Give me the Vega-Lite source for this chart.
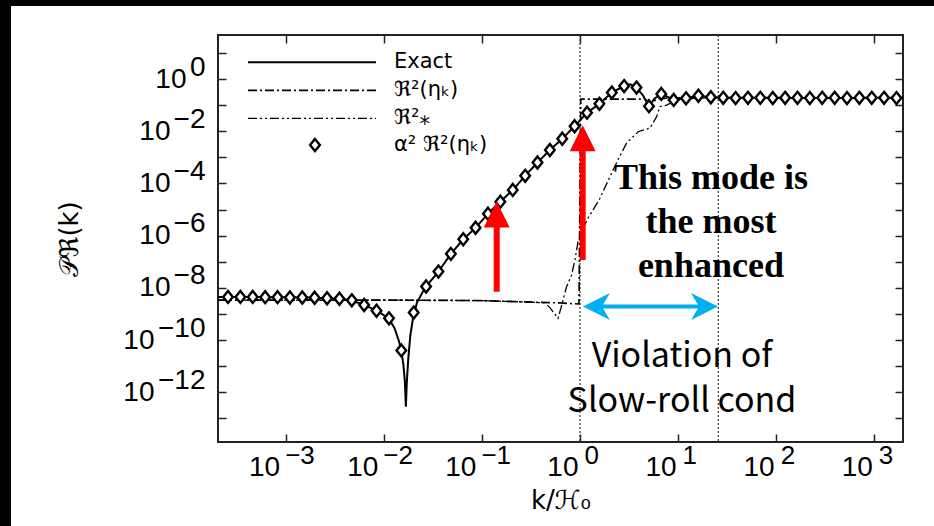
{
  "$schema": "https://vega.github.io/schema/vega-lite/v6.json",
  "width": 685,
  "height": 407,
  "autosize": {"type": "none"},
  "padding": {"left": 218, "top": 35, "right": 31, "bottom": 84},
  "background": "white",
  "config": {
    "view": {"fill": "white", "stroke": "#222", "strokeWidth": 2},
    "axis": {"grid": false, "labelColor": "black", "titleColor": "black", "labelFont": "Liberation Sans", "titleFont": "DejaVu Sans", "titleFontWeight": "normal"}
  },
  "datasets": {
    "curves": [
      {"series": "Exact", "k": 2.042e-4, "P": 4.467e-9},
      {"series": "Exact", "k": 1e-3, "P": 4.365e-9},
      {"series": "Exact", "k": 1.995e-3, "P": 4.169e-9},
      {"series": "Exact", "k": 3.548e-3, "P": 3.802e-9},
      {"series": "Exact", "k": 4.677e-3, "P": 3.311e-9},
      {"series": "Exact", "k": 6.310e-3, "P": 2.188e-9},
      {"series": "Exact", "k": 8.511e-3, "P": 1.318e-9},
      {"series": "Exact", "k": 1.122e-2, "P": 6.761e-10},
      {"series": "Exact", "k": 1.288e-2, "P": 2.818e-10},
      {"series": "Exact", "k": 1.429e-2, "P": 8.913e-11},
      {"series": "Exact", "k": 1.514e-2, "P": 3.548e-11},
      {"series": "Exact", "k": 1.585e-2, "P": 1.122e-11},
      {"series": "Exact", "k": 1.641e-2, "P": 2.512e-12},
      {"series": "Exact", "k": 1.679e-2, "P": 2.754e-13},
      {"series": "Exact", "k": 1.718e-2, "P": 2.512e-12},
      {"series": "Exact", "k": 1.778e-2, "P": 1.995e-11},
      {"series": "Exact", "k": 1.862e-2, "P": 1.413e-10},
      {"series": "Exact", "k": 1.995e-2, "P": 7.943e-10},
      {"series": "Exact", "k": 2.188e-2, "P": 2.818e-9},
      {"series": "Exact", "k": 2.630e-2, "P": 1e-8},
      {"series": "Exact", "k": 3.606e-2, "P": 4.169e-8},
      {"series": "Exact", "k": 4.831e-2, "P": 1.995e-7},
      {"series": "Exact", "k": 6.457e-2, "P": 7.244e-7},
      {"series": "Exact", "k": 8.630e-2, "P": 1.995e-6},
      {"series": "Exact", "k": 0.1153, "P": 6.918e-6},
      {"series": "Exact", "k": 0.1542, "P": 1.995e-5},
      {"series": "Exact", "k": 0.2065, "P": 5.623e-5},
      {"series": "Exact", "k": 0.2761, "P": 1.950e-4},
      {"series": "Exact", "k": 0.3690, "P": 6.310e-4},
      {"series": "Exact", "k": 0.4932, "P": 1.905e-3},
      {"series": "Exact", "k": 0.6592, "P": 5.129e-3},
      {"series": "Exact", "k": 0.8810, "P": 1.549e-2},
      {"series": "Exact", "k": 1.180, "P": 5.129e-2},
      {"series": "Exact", "k": 1.578, "P": 0.1122},
      {"series": "Exact", "k": 2.109, "P": 0.3020},
      {"series": "Exact", "k": 2.818, "P": 0.5370},
      {"series": "Exact", "k": 3.236, "P": 0.6310},
      {"series": "Exact", "k": 3.767, "P": 0.4677},
      {"series": "Exact", "k": 4.365, "P": 0.2399},
      {"series": "Exact", "k": 5.047, "P": 0.0912},
      {"series": "Exact", "k": 5.754, "P": 0.1778},
      {"series": "Exact", "k": 6.745, "P": 0.2692},
      {"series": "Exact", "k": 7.762, "P": 0.2089},
      {"series": "Exact", "k": 9.016, "P": 0.1585},
      {"series": "Exact", "k": 12.05, "P": 0.1820},
      {"series": "Exact", "k": 16.11, "P": 0.2291},
      {"series": "Exact", "k": 21.58, "P": 0.1995},
      {"series": "Exact", "k": 28.84, "P": 0.1905},
      {"series": "Exact", "k": 100, "P": 0.1905},
      {"series": "Exact", "k": 316.2, "P": 0.1862},
      {"series": "Exact", "k": 1000, "P": 0.1905},
      {"series": "Exact", "k": 1995, "P": 0.1905},
      {"series": "ℜ²(ηₖ)", "k": 2.042e-4, "P": 3.388e-9},
      {"series": "ℜ²(ηₖ)", "k": 0.01, "P": 3.388e-9},
      {"series": "ℜ²(ηₖ)", "k": 0.1, "P": 3.236e-9},
      {"series": "ℜ²(ηₖ)", "k": 0.3162, "P": 2.818e-9},
      {"series": "ℜ²(ηₖ)", "k": 0.6310, "P": 2.630e-9},
      {"series": "ℜ²(ηₖ)", "k": 0.9772, "P": 2.399e-9},
      {"series": "ℜ²(ηₖ)", "k": 1.019, "P": 0.1698},
      {"series": "ℜ²(ηₖ)", "k": 4.571, "P": 0.1698},
      {"series": "ℜ²(ηₖ)", "k": 5.248, "P": 0.1202},
      {"series": "ℜ²(ηₖ)", "k": 6.310, "P": 0.1778},
      {"series": "ℜ²(ηₖ)", "k": 10, "P": 0.1905},
      {"series": "ℜ²(ηₖ)", "k": 1995, "P": 0.1905},
      {"series": "ℜ²⁎", "k": 2.042e-4, "P": 3.388e-9},
      {"series": "ℜ²⁎", "k": 0.01, "P": 3.388e-9},
      {"series": "ℜ²⁎", "k": 0.1, "P": 3.236e-9},
      {"series": "ℜ²⁎", "k": 0.3162, "P": 2.818e-9},
      {"series": "ℜ²⁎", "k": 0.4365, "P": 2.630e-9},
      {"series": "ℜ²⁎", "k": 0.4943, "P": 1.738e-9},
      {"series": "ℜ²⁎", "k": 0.5970, "P": 6.761e-10},
      {"series": "ℜ²⁎", "k": 0.6457, "P": 1.905e-9},
      {"series": "ℜ²⁎", "k": 0.7295, "P": 1.096e-8},
      {"series": "ℜ²⁎", "k": 0.8204, "P": 3.090e-8},
      {"series": "ℜ²⁎", "k": 0.8892, "P": 1.175e-7},
      {"series": "ℜ²⁎", "k": 0.9616, "P": 6.761e-7},
      {"series": "ℜ²⁎", "k": 1.040, "P": 1.259e-6},
      {"series": "ℜ²⁎", "k": 1.175, "P": 3.981e-6},
      {"series": "ℜ²⁎", "k": 1.585, "P": 2.512e-5},
      {"series": "ℜ²⁎", "k": 2.023, "P": 1.820e-4},
      {"series": "ℜ²⁎", "k": 2.438, "P": 7.943e-4},
      {"series": "ℜ²⁎", "k": 2.992, "P": 3.548e-3},
      {"series": "ℜ²⁎", "k": 3.926, "P": 9.550e-3},
      {"series": "ℜ²⁎", "k": 5.176, "P": 1.318e-2},
      {"series": "ℜ²⁎", "k": 6.053, "P": 3.631e-2},
      {"series": "ℜ²⁎", "k": 6.531, "P": 8.710e-2},
      {"series": "ℜ²⁎", "k": 7.656, "P": 0.1},
      {"series": "ℜ²⁎", "k": 8.954, "P": 0.1349},
      {"series": "ℜ²⁎", "k": 10.47, "P": 0.1660},
      {"series": "ℜ²⁎", "k": 15.85, "P": 0.1862},
      {"series": "ℜ²⁎", "k": 1995, "P": 0.1862}
    ],
    "diamonds": [
      {"label": "α²  ℜ²(ηₖ)", "k": 2.582e-4, "P": 4.467e-9},
      {"label": "α²  ℜ²(ηₖ)", "k": 3.451e-4, "P": 4.467e-9},
      {"label": "α²  ℜ²(ηₖ)", "k": 4.613e-4, "P": 4.467e-9},
      {"label": "α²  ℜ²(ηₖ)", "k": 6.180e-4, "P": 4.365e-9},
      {"label": "α²  ℜ²(ηₖ)", "k": 8.260e-4, "P": 4.365e-9},
      {"label": "α²  ℜ²(ηₖ)", "k": 1.104e-3, "P": 4.266e-9},
      {"label": "α²  ℜ²(ηₖ)", "k": 1.476e-3, "P": 4.266e-9},
      {"label": "α²  ℜ²(ηₖ)", "k": 1.972e-3, "P": 4.169e-9},
      {"label": "α²  ℜ²(ηₖ)", "k": 2.642e-3, "P": 3.981e-9},
      {"label": "α²  ℜ²(ηₖ)", "k": 3.532e-3, "P": 3.802e-9},
      {"label": "α²  ℜ²(ηₖ)", "k": 4.721e-3, "P": 3.311e-9},
      {"label": "α²  ℜ²(ηₖ)", "k": 6.310e-3, "P": 2.188e-9},
      {"label": "α²  ℜ²(ηₖ)", "k": 8.433e-3, "P": 1.318e-9},
      {"label": "α²  ℜ²(ηₖ)", "k": 1.130e-2, "P": 6.761e-10},
      {"label": "α²  ℜ²(ηₖ)", "k": 1.510e-2, "P": 3.981e-11},
      {"label": "α²  ℜ²(ηₖ)", "k": 2.018e-2, "P": 1.122e-9},
      {"label": "α²  ℜ²(ηₖ)", "k": 2.698e-2, "P": 1.122e-8},
      {"label": "α²  ℜ²(ηₖ)", "k": 3.606e-2, "P": 4.169e-8},
      {"label": "α²  ℜ²(ηₖ)", "k": 4.831e-2, "P": 1.995e-7},
      {"label": "α²  ℜ²(ηₖ)", "k": 6.457e-2, "P": 7.244e-7},
      {"label": "α²  ℜ²(ηₖ)", "k": 8.630e-2, "P": 1.995e-6},
      {"label": "α²  ℜ²(ηₖ)", "k": 0.1153, "P": 6.918e-6},
      {"label": "α²  ℜ²(ηₖ)", "k": 0.1542, "P": 1.995e-5},
      {"label": "α²  ℜ²(ηₖ)", "k": 0.2065, "P": 5.623e-5},
      {"label": "α²  ℜ²(ηₖ)", "k": 0.2761, "P": 1.950e-4},
      {"label": "α²  ℜ²(ηₖ)", "k": 0.3690, "P": 6.310e-4},
      {"label": "α²  ℜ²(ηₖ)", "k": 0.4932, "P": 1.905e-3},
      {"label": "α²  ℜ²(ηₖ)", "k": 0.6592, "P": 5.129e-3},
      {"label": "α²  ℜ²(ηₖ)", "k": 0.8810, "P": 1.549e-2},
      {"label": "α²  ℜ²(ηₖ)", "k": 1.180, "P": 5.129e-2},
      {"label": "α²  ℜ²(ηₖ)", "k": 1.578, "P": 0.1122},
      {"label": "α²  ℜ²(ηₖ)", "k": 2.109, "P": 0.3020},
      {"label": "α²  ℜ²(ηₖ)", "k": 2.818, "P": 0.5370},
      {"label": "α²  ℜ²(ηₖ)", "k": 3.767, "P": 0.4677},
      {"label": "α²  ℜ²(ηₖ)", "k": 5.047, "P": 0.0912},
      {"label": "α²  ℜ²(ηₖ)", "k": 6.745, "P": 0.2692},
      {"label": "α²  ℜ²(ηₖ)", "k": 9.016, "P": 0.1585},
      {"label": "α²  ℜ²(ηₖ)", "k": 12.05, "P": 0.1820},
      {"label": "α²  ℜ²(ηₖ)", "k": 16.11, "P": 0.2291},
      {"label": "α²  ℜ²(ηₖ)", "k": 21.58, "P": 0.1995},
      {"label": "α²  ℜ²(ηₖ)", "k": 28.84, "P": 0.1905},
      {"label": "α²  ℜ²(ηₖ)", "k": 38.55, "P": 0.1862},
      {"label": "α²  ℜ²(ηₖ)", "k": 51.52, "P": 0.1905},
      {"label": "α²  ℜ²(ηₖ)", "k": 68.87, "P": 0.1905},
      {"label": "α²  ℜ²(ηₖ)", "k": 92.26, "P": 0.1862},
      {"label": "α²  ℜ²(ηₖ)", "k": 123.3, "P": 0.1905},
      {"label": "α²  ℜ²(ηₖ)", "k": 164.8, "P": 0.1905},
      {"label": "α²  ℜ²(ηₖ)", "k": 220.3, "P": 0.1862},
      {"label": "α²  ℜ²(ηₖ)", "k": 294.4, "P": 0.1905},
      {"label": "α²  ℜ²(ηₖ)", "k": 394.5, "P": 0.1905},
      {"label": "α²  ℜ²(ηₖ)", "k": 527.2, "P": 0.1862},
      {"label": "α²  ℜ²(ηₖ)", "k": 704.7, "P": 0.1905},
      {"label": "α²  ℜ²(ηₖ)", "k": 941.9, "P": 0.1905},
      {"label": "α²  ℜ²(ηₖ)", "k": 1259, "P": 0.1905},
      {"label": "α²  ℜ²(ηₖ)", "k": 1683, "P": 0.1862}
    ],
    "guides": [{"k": 1}, {"k": 25.7}],
    "arrows": [
      {"k": 0.1416, "lo": 7.08e-9, "hi": 3.31e-6, "head": 6.457e-6},
      {"k": 1.065, "lo": 1.16e-7, "hi": 2.48e-3, "head": 5.32e-3}
    ]
  },
  "layer": [
    {
      "data": {"values": [{}]},
      "mark": {"type": "rect", "color": "black"},
      "encoding": {
        "x": {"datum": 1e-20, "type": "quantitative", "scale": {"type": "log", "domain": [2.042e-4, 1962], "nice": false}, "axis": null},
        "x2": {"datum": 1.585e-6},
        "y": {"datum": 1e-30, "type": "quantitative", "scale": {"type": "log", "domain": [1.236e-14, 48.53], "nice": false}, "axis": null},
        "y2": {"datum": 1e20}
      }
    },
    {
      "data": {"values": [{}]},
      "mark": {"type": "rect", "color": "black"},
      "encoding": {
        "x": {"datum": 1e-20, "type": "quantitative", "scale": {"type": "log", "domain": [2.042e-4, 1962], "nice": false}, "axis": null},
        "x2": {"datum": 1e20},
        "y": {"datum": 626.5, "type": "quantitative", "scale": {"type": "log", "domain": [1.236e-14, 48.53], "nice": false}, "axis": null},
        "y2": {"datum": 1e20}
      }
    },
    {
      "data": {"name": "guides"},
      "mark": {"type": "rule", "color": "#333", "strokeWidth": 1.2, "strokeDash": [2, 2]},
      "encoding": {
        "x": {"field": "k", "type": "quantitative", "scale": {"type": "log", "domain": [2.042e-4, 1962], "nice": false},
          "axis": {"orient": "top", "offset": -8, "values": [0.001, 0.01, 0.1, 1, 10, 100, 1000], "ticks": true, "tickSize": 8, "tickWidth": 1.5, "tickColor": "#222", "labels": false, "domain": false, "title": null}}
      }
    },
    {
      "data": {"name": "curves"},
      "mark": {"type": "line", "color": "black", "clip": true},
      "encoding": {
        "x": {"field": "k", "type": "quantitative", "scale": {"type": "log", "domain": [2.042e-4, 1962], "nice": false},
          "axis": {"orient": "bottom", "offset": -8, "values": [0.001, 0.01, 0.1, 1, 10, 100, 1000], "ticks": true, "tickSize": 8, "tickWidth": 1.5, "tickColor": "#222", "labels": false, "domain": false, "title": null}},
        "y": {"field": "P", "type": "quantitative", "scale": {"type": "log", "domain": [1.236e-14, 48.53], "nice": false},
          "axis": {"orient": "left", "offset": -8, "values": [10, 1, 0.1, 0.01, 1e-3, 1e-4, 1e-5, 1e-6, 1e-7, 1e-8, 1e-9, 1e-10, 1e-11, 1e-12, 1e-13], "ticks": true, "tickSize": 8, "tickWidth": 1.5, "tickColor": "#222", "labels": false, "domain": false, "title": null}},
        "strokeDash": {"field": "series", "type": "nominal",
          "scale": {"domain": ["Exact", "ℜ²(ηₖ)", "ℜ²⁎"], "range": [[1, 0], [9, 3, 2, 3], [9, 3, 2, 3, 2, 3]]},
          "legend": {"orient": "none", "legendX": 29, "legendY": 13.5, "title": null, "padding": 0,
            "symbolType": "stroke", "symbolSize": 16384, "symbolStrokeColor": "black", "symbolStrokeWidth": 1.5,
            "clipHeight": 27.6, "rowPadding": 0, "labelOffset": 17, "labelFont": "DejaVu Sans", "labelFontSize": 21, "labelColor": "black", "labelLimit": 0}},
        "strokeWidth": {"field": "series", "type": "nominal", "scale": {"domain": ["Exact", "ℜ²(ηₖ)", "ℜ²⁎"], "range": [2, 1.3, 1.3]}, "legend": null}
      }
    },
    {
      "data": {"name": "diamonds"},
      "mark": {"type": "point", "shape": "M0,-1L0.8,0L0,1L-0.8,0Z", "size": 144, "filled": false, "fill": "white", "fillOpacity": 1, "strokeWidth": 2.4, "opacity": 1, "clip": true},
      "encoding": {
        "x": {"field": "k", "type": "quantitative", "scale": {"type": "log", "domain": [2.042e-4, 1962], "nice": false}, "axis": null},
        "y": {"field": "P", "type": "quantitative", "scale": {"type": "log", "domain": [1.236e-14, 48.53], "nice": false},
          "axis": {"orient": "right", "offset": -8, "values": [10, 1, 0.1, 0.01, 1e-3, 1e-4, 1e-5, 1e-6, 1e-7, 1e-8, 1e-9, 1e-10, 1e-11, 1e-12, 1e-13], "ticks": true, "tickSize": 8, "tickWidth": 1.5, "tickColor": "#222", "labels": false, "domain": false, "title": null}},
        "color": {"field": "label", "type": "nominal", "scale": {"range": ["black"]},
          "legend": {"orient": "none", "legendX": 86.5, "legendY": 96.2, "title": null, "padding": 0,
            "symbolType": "M0,-1L0.8,0L0,1L-0.8,0Z", "symbolSize": 150, "symbolFillColor": "white", "symbolStrokeWidth": 2.4, "symbolOpacity": 1,
            "clipHeight": 27.6, "rowPadding": 0, "labelOffset": 68.5, "labelFont": "DejaVu Sans", "labelFontSize": 21, "labelColor": "black", "labelLimit": 0}}
      }
    },
    {
      "data": {"name": "arrows"},
      "mark": {"type": "rule", "color": "#FF0000", "strokeWidth": 6},
      "encoding": {
        "x": {"field": "k", "type": "quantitative", "scale": {"type": "log", "domain": [2.042e-4, 1962], "nice": false},
          "axis": {"orient": "bottom", "values": [0.001, 0.01, 0.1, 1, 10, 100, 1000], "ticks": false, "tickSize": 0, "domain": false,
            "labelExpr": "'10'", "labelAlign": "right", "labelBaseline": "middle", "labelPadding": 25, "labelFontSize": 28,
            "labelOffset": {"condition": {"test": "datum.value < 0.5", "value": -6}, "value": -2},
            "labelOverlap": false, "labelFlush": false, "labelBound": false,
            "title": "k/ℋ₀", "titleFontSize": 26, "titleY": 58, "titleBaseline": "middle"}},
        "y": {"field": "lo", "type": "quantitative", "scale": {"type": "log", "domain": [1.236e-14, 48.53], "nice": false},
          "axis": {"orient": "left", "values": [1, 0.01, 1e-4, 1e-6, 1e-8, 1e-10, 1e-12], "ticks": false, "tickSize": 0, "domain": false,
            "labelExpr": "'10'", "labelAlign": "right", "labelBaseline": "middle", "labelFontSize": 28,
            "labelPadding": {"condition": [{"test": "datum.value > 0.5", "value": 32}, {"test": "datum.value > 1e-9", "value": 48}], "value": 64},
            "labelOverlap": false, "labelFlush": false, "labelBound": false,
            "title": "𝒫ℜ(k)", "titleFontSize": 26, "titleX": -149, "titleBaseline": "middle"}},
        "y2": {"field": "hi"}
      }
    },
    {
      "data": {"name": "arrows"},
      "mark": {"type": "point", "shape": "M0,-1L1,1L-1,1Z", "size": 676, "filled": true, "color": "#FF0000", "opacity": 1},
      "encoding": {
        "x": {"field": "k", "type": "quantitative", "scale": {"type": "log", "domain": [2.042e-4, 1962], "nice": false},
          "axis": {"orient": "bottom", "values": [0.001, 0.01, 0.1, 1, 10, 100, 1000], "ticks": false, "tickSize": 0, "domain": false,
            "labelExpr": "format(round(log(datum.value)/LN10), 'd')", "labelAlign": "left", "labelBaseline": "middle", "labelPadding": 13, "labelFontSize": 26,
            "labelOffset": {"condition": {"test": "datum.value < 0.5", "value": -1}, "value": 4},
            "labelOverlap": false, "labelFlush": false, "labelBound": false,
            "title": null}},
        "y": {"field": "head", "type": "quantitative", "scale": {"type": "log", "domain": [1.236e-14, 48.53], "nice": false},
          "axis": {"orient": "left", "values": [1, 0.01, 1e-4, 1e-6, 1e-8, 1e-10, 1e-12], "ticks": false, "tickSize": 0, "domain": false,
            "labelExpr": "format(round(log(datum.value)/LN10), 'd')", "labelAlign": "right", "labelBaseline": "middle", "labelPadding": 13, "labelOffset": -12, "labelFontSize": 28,
            "labelOverlap": false, "labelFlush": false, "labelBound": false,
            "title": null}}
      }
    },
    {
      "data": {"values": [{}]},
      "mark": {"type": "rule", "color": "#00B0F0", "strokeWidth": 4},
      "encoding": {
        "x": {"datum": 1.60, "type": "quantitative", "scale": {"type": "log", "domain": [2.042e-4, 1962], "nice": false}, "axis": null},
        "x2": {"datum": 16.7},
        "y": {"datum": 1.905e-9, "type": "quantitative", "scale": {"type": "log", "domain": [1.236e-14, 48.53], "nice": false}, "axis": null}
      }
    },
    {
      "data": {"values": [{}]},
      "mark": {"type": "point", "shape": "M-1,0L1,-1L0.4,0L1,1Z", "size": 729, "filled": true, "color": "#00B0F0", "opacity": 1},
      "encoding": {
        "x": {"datum": 1.472, "type": "quantitative", "scale": {"type": "log", "domain": [2.042e-4, 1962], "nice": false}, "axis": null},
        "y": {"datum": 1.905e-9, "type": "quantitative", "scale": {"type": "log", "domain": [1.236e-14, 48.53], "nice": false}, "axis": null}
      }
    },
    {
      "data": {"values": [{}]},
      "mark": {"type": "point", "shape": "M1,0L-1,-1L-0.4,0L-1,1Z", "size": 729, "filled": true, "color": "#00B0F0", "opacity": 1},
      "encoding": {
        "x": {"datum": 18.58, "type": "quantitative", "scale": {"type": "log", "domain": [2.042e-4, 1962], "nice": false}, "axis": null},
        "y": {"datum": 1.905e-9, "type": "quantitative", "scale": {"type": "log", "domain": [1.236e-14, 48.53], "nice": false}, "axis": null}
      }
    },
    {
      "data": {"values": [{}]},
      "mark": {"type": "text", "font": "Liberation Serif", "fontWeight": "bold", "fontSize": 36, "lineHeight": 44, "align": "center", "baseline": "middle", "color": "black"},
      "encoding": {
        "x": {"datum": 21.6, "type": "quantitative", "scale": {"type": "log", "domain": [2.042e-4, 1962], "nice": false}, "axis": null},
        "y": {"datum": 1.61e-4, "type": "quantitative", "scale": {"type": "log", "domain": [1.236e-14, 48.53], "nice": false}, "axis": null},
        "text": {"value": ["This mode is", "the most", "enhanced"]}
      }
    },
    {
      "data": {"values": [{}]},
      "mark": {"type": "text", "font": "Noto Sans CJK JP", "fontSize": 34, "lineHeight": 45, "align": "center", "baseline": "middle", "color": "black"},
      "encoding": {
        "x": {"datum": 10.96, "type": "quantitative", "scale": {"type": "log", "domain": [2.042e-4, 1962], "nice": false}, "axis": null},
        "y": {"datum": 2.24e-11, "type": "quantitative", "scale": {"type": "log", "domain": [1.236e-14, 48.53], "nice": false}, "axis": null},
        "text": {"value": ["Violation of", "Slow-roll cond"]}
      }
    }
  ],
  "resolve": {"axis": {"x": "independent", "y": "independent"}}
}
